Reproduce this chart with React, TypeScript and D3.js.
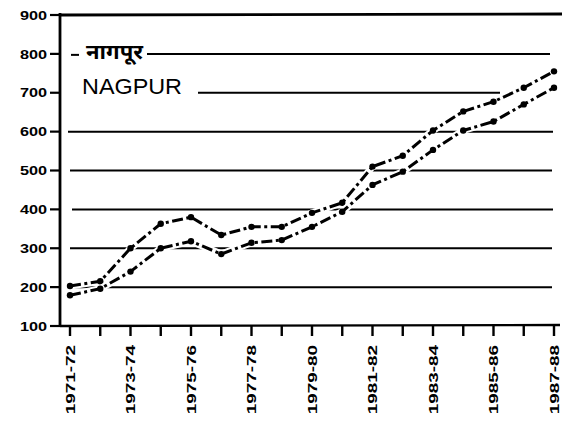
import React from "react";
import * as d3 from "d3";

const years = [
  "1971-72", "1972-73", "1973-74", "1974-75", "1975-76", "1976-77", "1977-78", "1978-79",
  "1979-80", "1980-81", "1981-82", "1982-83", "1983-84", "1984-85", "1985-86", "1986-87", "1987-88",
];
const upperSeries = [203, 215, 300, 363, 380, 334, 355, 355, 391, 417, 510, 538, 603, 652, 677, 713, 755];
const lowerSeries = [179, 196, 240, 300, 318, 285, 314, 321, 355, 394, 463, 497, 553, 603, 626, 670, 713];
const yTicks = [100, 200, 300, 400, 500, 600, 700, 800, 900];
const labelledYears = ["1971-72", "1973-74", "1975-76", "1977-78", "1979-80", "1981-82", "1983-84", "1985-86", "1987-88"];
const titleHindi = "नागपूर";
const titleEnglish = "NAGPUR";

// grid line extents per value [x0, x1] in px
const gridExtents: Record<number, [number, number]> = {
  200: [70, 552],
  300: [70, 552],
  400: [72, 553],
  500: [70, 552],
  600: [68, 553],
  700: [198, 500],
  800: [147, 550],
};

export default function App() {
  const W = 562, H = 423;
  const x = d3.scalePoint<string>().domain(years).range([70, 554]);
  const y = d3.scaleLinear().domain([100, 900]).range([326, 15]);
  const axisX = 60;
  const baseY = y(100);
  const line = d3
    .line<number>()
    .x((_, i) => x(years[i]) as number)
    .y((d) => y(d));
  const font = "'Liberation Sans', Arial, Helvetica, sans-serif";
  const dash = "11 3.5 3 3.5";

  return (
    <svg
      width={W}
      height={H}
      style={{ position: "fixed", left: 0, top: 0, background: "#fff" }}
    >
      <rect width={W} height={H} fill="#fff" />
      {/* grid lines */}
      {yTicks
        .filter((t) => gridExtents[t])
        .map((t) => (
          <line
            key={t}
            x1={gridExtents[t][0]}
            x2={gridExtents[t][1]}
            y1={y(t)}
            y2={y(t)}
            stroke="#000"
            strokeWidth={2}
          />
        ))}
      {/* top line at 900 */}
      <line x1={axisX} x2={W} y1={y(900)} y2={y(900) - 1} stroke="#000" strokeWidth={2.8} />
      {/* small dash before Hindi label */}
      <line x1={71} x2={79} y1={y(800) + 1} y2={y(800) + 1} stroke="#000" strokeWidth={2} />
      <text
        x={86}
        y={y(800) + 5}
        fontFamily="'Noto Sans Devanagari', 'Noto Sans', 'DejaVu Sans', sans-serif"
        fontSize={20}
        fontWeight="bold"
        fill="#000"
        textLength={57}
        lengthAdjust="spacingAndGlyphs"
      >
        {titleHindi}
      </text>
      <text
        x={82}
        y={94}
        fontFamily={font}
        fontSize={22}
        fill="#000"
        textLength={100}
        lengthAdjust="spacingAndGlyphs"
      >
        {titleEnglish}
      </text>

      {/* series with white halo to break grid lines */}
      {[upperSeries, lowerSeries].map((s, k) => (
        <g key={k}>
          <path d={line(s) as string} fill="none" stroke="#fff" strokeWidth={7} />
          <path
            d={line(s) as string}
            fill="none"
            stroke="#000"
            strokeWidth={3}
            strokeDasharray={dash}
            strokeLinecap="butt"
          />
          {s.map((v, i) => (
            <circle key={i} cx={x(years[i]) as number} cy={y(v)} r={3.2} fill="#000" />
          ))}
        </g>
      ))}

      {/* y axis */}
      <line x1={axisX} x2={axisX} y1={y(900) - 2} y2={baseY + 1} stroke="#000" strokeWidth={2.8} />
      {yTicks.map((t) => (
        <g key={t}>
          <line x1={50} x2={axisX} y1={y(t)} y2={y(t)} stroke="#000" strokeWidth={2.2} />
          <text
            transform={`translate(47,${y(t)}) scale(1.25,1)`}
            dy="0.36em"
            textAnchor="end"
            fontFamily={font}
            fontWeight="bold"
            fontSize={13}
            fill="#000"
          >
            {t}
          </text>
        </g>
      ))}

      {/* x axis */}
      <line x1={axisX} x2={560} y1={baseY} y2={baseY - 1} stroke="#000" strokeWidth={2.4} />
      {years.map((yr) => (
        <line
          key={yr}
          x1={x(yr) as number}
          x2={x(yr) as number}
          y1={baseY}
          y2={baseY + 10}
          stroke="#000"
          strokeWidth={2.4}
        />
      ))}
      {labelledYears.map((yr) => (
        <text
          key={yr}
          transform={`translate(${(x(yr) as number) + 4.5},345) rotate(-90) scale(1.4,1)`}
          textAnchor="end"
          fontFamily={font}
          fontWeight="bold"
          fontSize={13.5}
          fill="#000"
        >
          {yr}
        </text>
      ))}
    </svg>
  );
}
